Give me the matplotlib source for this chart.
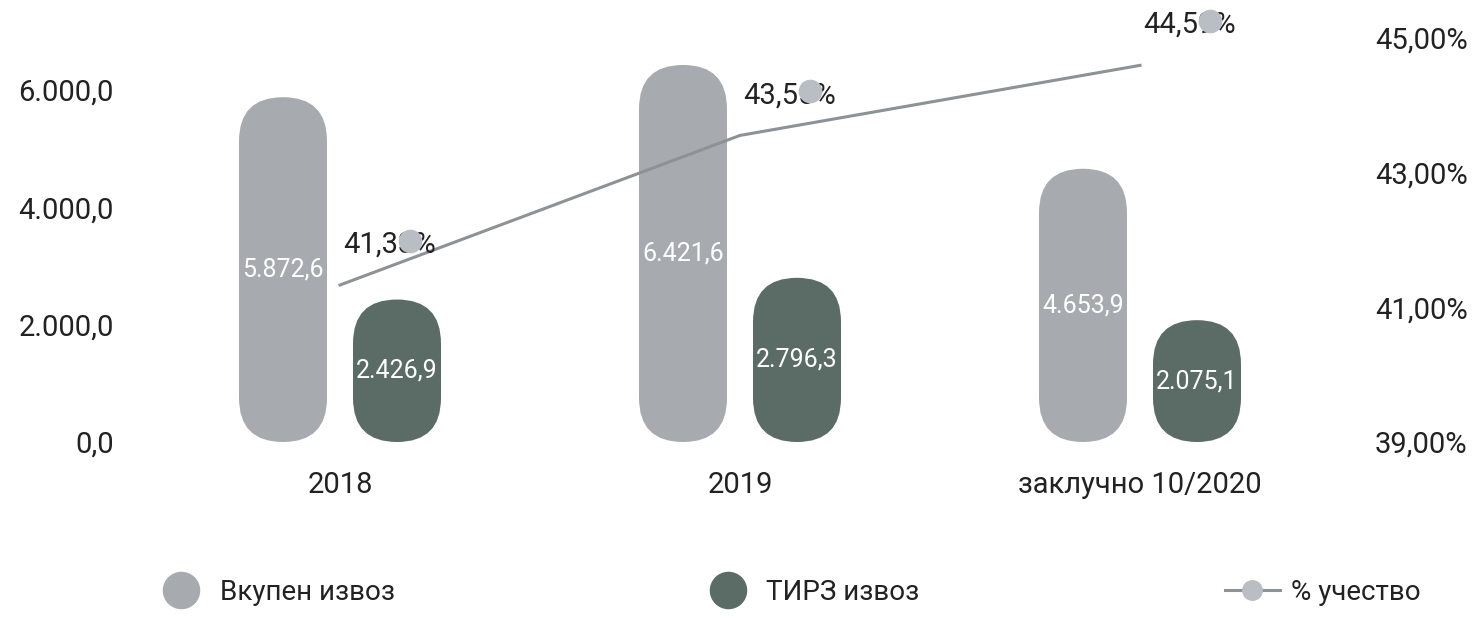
import matplotlib

matplotlib.use("Agg")

import matplotlib.pyplot as plt
import matplotlib.transforms as mtransforms
from matplotlib.lines import Line2D
from matplotlib.patches import FancyBboxPatch
import numpy as np

plt.rcParams["font.family"] = ["Roboto", "DejaVu Sans"]

# data
categories = ["2018", "2019", "заклучно 10/2020"]
total_export = [5872.6, 6421.6, 4653.9]
tirz_export = [2426.9, 2796.3, 2075.1]
share_pct = [41.33, 43.55, 44.59]

left_ticks = [0, 2000, 4000, 6000]
right_ticks = [39, 41, 43, 45]

light = "#a7abaf"
dark = "#5b6b65"
line_col = "#8d9296"
marker_col = "#b9bdc4"
text_col = "#222222"


def fmt_num(v, dec=1):
    s = f"{v:,.{dec}f}"
    return s.replace(",", "X").replace(".", ",").replace("X", ".")


W, H = 1479, 618
fig = plt.figure(figsize=(W / 100, H / 100), dpi=100)
ax = fig.add_axes([140 / W, 176 / H, 1200 / W, 411 / H])
ax2 = ax.twinx()

ax.set_xlim(-0.5, 2.5)
ax.set_ylim(0, 7000)
ax2.set_ylim(39, 45.1)

for a in (ax, ax2):
    for sp in a.spines.values():
        sp.set_visible(False)
    a.tick_params(length=0, labelsize=21, colors=text_col)

ax.set_yticks(left_ticks)
ax.set_yticklabels([fmt_num(v) for v in left_ticks])
ax.tick_params(axis="y", pad=19)
ax2.set_yticks(right_ticks)
ax2.set_yticklabels([fmt_num(v, 2) + "%" for v in right_ticks])
ax2.tick_params(axis="y", pad=25)

x = np.arange(len(categories))
ax.set_xticks(x)
ax.set_xticklabels(categories)
ax.tick_params(axis="x", pad=21)

# pixel scales to keep the pill ends circular
fig.canvas.draw()
p0 = ax.transData.transform((0, 0))
p1 = ax.transData.transform((1, 1))
sx = p1[0] - p0[0]
sy = p1[1] - p0[1]
bar_w = 88 / sx
offset = 57 / sx
rad = bar_w / 2


def pill(xc, val, color):
    patch = FancyBboxPatch(
        (xc - bar_w / 2, 0), bar_w, val,
        boxstyle=f"round,pad=0,rounding_size={rad}",
        mutation_aspect=sx / sy,
        facecolor=color, edgecolor="none", zorder=2,
    )
    ax.add_patch(patch)
    ax.text(xc, val / 2, fmt_num(val), ha="center", va="center",
            color="white", fontsize=18, zorder=3)


for i in range(len(categories)):
    pill(x[i] - offset, total_export[i], light)
    pill(x[i] + offset, tirz_export[i], dark)

# share line; markers and labels sit shifted up-right as in the scan
ax2.plot(x, share_pct, color=line_col, lw=2.2, zorder=4)
shift = mtransforms.ScaledTranslation(0.70, 0.44, fig.dpi_scale_trans)
ax2.plot(x, share_pct, ls="none", marker="o", ms=16, color=marker_col,
         transform=ax2.transData + shift, zorder=6, clip_on=False)
for xi, v in zip(x, share_pct):
    ax2.annotate(fmt_num(v, 2) + "%", (xi, v), xytext=(36, 29),
                 textcoords="offset points", ha="center", va="center",
                 fontsize=21, color=text_col, zorder=5, annotation_clip=False)

handles = [
    Line2D([], [], ls="none", marker="o", ms=26, color=light),
    Line2D([], [], ls="none", marker="o", ms=26, color=dark),
    Line2D([], [], color=line_col, lw=2.2, marker="o", ms=14,
           markerfacecolor=marker_col, markeredgecolor=marker_col),
]
labels = ["Вкупен извоз", "ТИРЗ извоз", "% учество"]
fig.legend(handles, labels, loc="center", ncol=3, mode="expand",
           bbox_to_anchor=(128 / W, 26 / H, 1318 / W, 0), frameon=False,
           fontsize=20, handlelength=2.0, handletextpad=0.4,
           labelcolor=text_col)

fig.savefig("out.png", dpi=100)
